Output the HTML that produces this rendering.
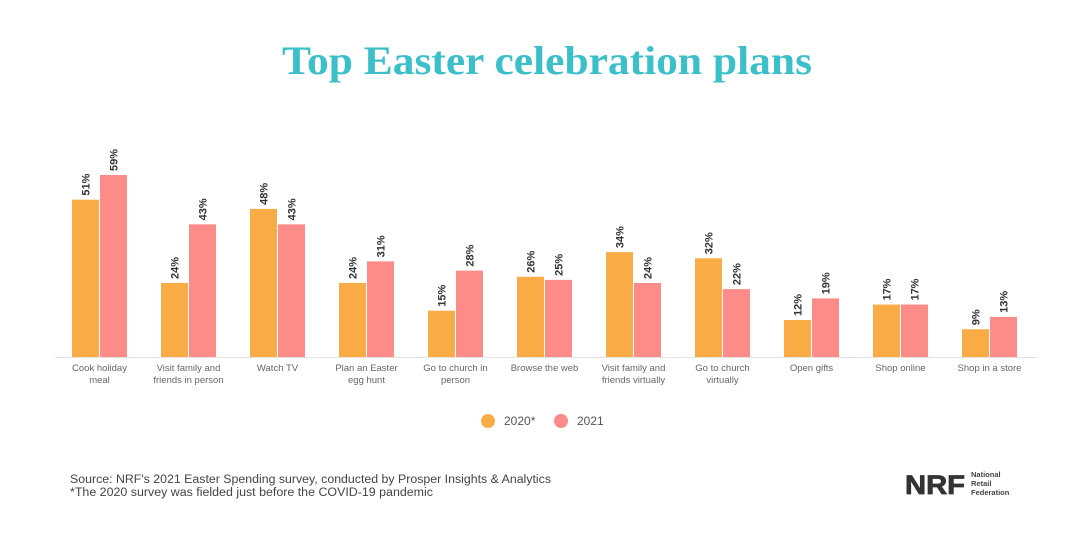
<!DOCTYPE html>
<html><head><meta charset="utf-8"><style>
body{margin:0;width:1080px;height:543px;background:#fff;overflow:hidden;font-family:"Liberation Sans",sans-serif}
</style></head><body>
<svg width="1080" height="543">
<text x="282" y="74" textLength="530" lengthAdjust="spacingAndGlyphs" font-family="Liberation Serif,serif" font-weight="bold" font-size="40" fill="#3bbfc9">Top Easter celebration plans</text>
<line x1="55" y1="357.5" x2="1037" y2="357.5" stroke="#e3e3e3" stroke-width="1"/>
<g id="bars"></g>
<g id="legend">
<circle cx="488" cy="421" r="7" fill="#f9ac45"/>
<text x="504" y="425" font-size="12" fill="#555">2020*</text>
<circle cx="561" cy="421" r="7" fill="#fd8b87"/>
<text x="577" y="425" font-size="12" fill="#555">2021</text>
</g>
<text x="70" y="483" textLength="481" lengthAdjust="spacingAndGlyphs" font-size="11.5" fill="#444">Source: NRF's 2021 Easter Spending survey, conducted by Prosper Insights &amp; Analytics</text>
<text x="70" y="496" textLength="363" lengthAdjust="spacingAndGlyphs" font-size="11.5" fill="#444">*The 2020 survey was fielded just before the COVID-19 pandemic</text>
<g>
<text x="905" y="494" textLength="60" lengthAdjust="spacingAndGlyphs" font-size="27" font-weight="bold" fill="#333" stroke="#333" stroke-width="0.8">NRF</text>
<text x="971" y="477" font-size="7.5" font-weight="bold" fill="#444">National</text>
<text x="971" y="486" font-size="7.5" font-weight="bold" fill="#444">Retail</text>
<text x="971" y="495" font-size="7.5" font-weight="bold" fill="#444">Federation</text>
</g>
</svg>
<script>
const categories=[["Cook holiday","meal"],["Visit family and","friends in person"],["Watch TV"],["Plan an Easter","egg hunt"],["Go to church in","person"],["Browse the web"],["Visit family and","friends virtually"],["Go to church","virtually"],["Open gifts"],["Shop online"],["Shop in a store"]];
const values2020=[51,24,48,24,15,26,34,32,12,17,9];
const values2021=[59,43,43,31,28,25,24,22,19,17,13];
const NS="http://www.w3.org/2000/svg";
const g=document.getElementById('bars');
const base=357, scale=3.085, x0=72, step=89, bw=27;
function y(v){return base-v*scale;}
function mk(t,a){const e=document.createElementNS(NS,t);for(const k in a)e.setAttribute(k,a[k]);g.appendChild(e);return e;}
categories.forEach((c,i)=>{
  const gx=x0+i*step;
  [[values2020,'#f9ac45',0,'2020'],[values2021,'#fd8b87',28,'2021']].forEach(([arr,col,off,yr])=>{
    const v=arr[i], bx=gx+off;
    const r=mk('rect',{x:bx,y:y(v),width:bw,height:v*scale,fill:col});
    
    
    const t=mk('text',{transform:`translate(${bx+bw/2+4},${y(v)-4}) rotate(-90)`,'font-size':11,'font-weight':'bold',fill:'#333'});
    t.textContent=v+'%';
    
    
  });
  c.forEach((line,j)=>{
    const t=mk('text',{x:gx+27.5,y:371+j*12,'text-anchor':'middle','font-size':9.5,fill:'#666'});
    t.textContent=line;
    
    
  });
});
</script>
</body></html>
